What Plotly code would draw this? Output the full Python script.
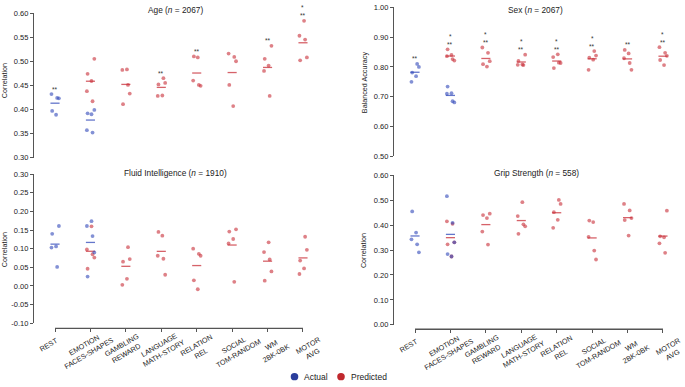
import numpy as np
import plotly.graph_objects as go

W, H = 685, 387

# ---------------- data ----------------
CATEGORIES = ["REST", "EMOTION<br>FACES-SHAPES", "GAMBLING<br>REWARD", "LANGUAGE<br>MATH-STORY",
              "RELATION<br>REL", "SOCIAL<br>TOM-RANDOM", "WM<br>2BK-0BK", "MOTOR<br>AVG"]

AGE_ACTUAL = [[0.432, 0.424, 0.423, 0.397, 0.389],
              [0.399, 0.392, 0.390, 0.357, 0.352],
              None, None, None, None, None, None]
AGE_PRED = [None,
            [0.505, 0.474, 0.459, 0.438, 0.417],
            [0.483, 0.482, 0.451, 0.433, 0.411],
            [0.465, 0.455, 0.452, 0.429, 0.428],
            [0.510, 0.508, 0.460, 0.451, 0.449],
            [0.516, 0.509, 0.500, 0.451, 0.407],
            [0.532, 0.505, 0.491, 0.480, 0.428],
            [0.584, 0.553, 0.545, 0.508, 0.502]]
AGE_STAR2 = [1, 0, 0, 1, 1, 0, 1, 1]
AGE_STAR1 = [0, 0, 0, 0, 0, 0, 0, 1]

SEX_ACTUAL = [[0.810, 0.800, 0.781, 0.769, 0.750],
              [0.734, 0.712, 0.710, 0.685, 0.681],
              None, None, None, None, None, None]
SEX_PRED = [None,
            [0.859, 0.840, 0.836, 0.826, 0.821],
            [0.865, 0.847, 0.819, 0.809, 0.801],
            [0.841, 0.820, 0.808, 0.807, 0.806],
            [0.842, 0.833, 0.814, 0.813, 0.796],
            [0.853, 0.838, 0.831, 0.824, 0.790],
            [0.857, 0.845, 0.829, 0.813, 0.790],
            [0.866, 0.847, 0.837, 0.823, 0.806]]
SEX_STAR2 = [1, 1, 1, 1, 1, 1, 1, 1]
SEX_STAR1 = [0, 1, 1, 1, 1, 1, 0, 1]

FLUID_ACTUAL = [[0.161, 0.140, 0.106, 0.103, 0.051],
                [0.174, 0.161, 0.134, 0.090, 0.025],
                None, None, None, None, None, None]
FLUID_PRED = [None,
              [0.160, 0.098, 0.085, 0.076, 0.046],
              [0.104, 0.072, 0.065, 0.019, 0.003],
              [0.145, 0.135, 0.081, 0.073, 0.030],
              [0.100, 0.086, 0.081, 0.015, -0.009],
              [0.152, 0.146, 0.126, 0.114, 0.011],
              [0.117, 0.091, 0.071, 0.039, 0.014],
              [0.132, 0.097, 0.068, 0.047, 0.032]]
FLUID_STAR2 = [0] * 8
FLUID_STAR1 = [0] * 8

GRIP_ACTUAL = [[0.455, 0.370, 0.343, 0.323, 0.291],
               [0.516, 0.409, 0.331, 0.284, 0.274],
               None, None, None, None, None, None]
GRIP_PRED = [None,
             [0.415, 0.405, 0.331, 0.323, 0.274],
             [0.446, 0.440, 0.428, 0.374, 0.322],
             [0.492, 0.436, 0.403, 0.395, 0.365],
             [0.501, 0.485, 0.452, 0.421, 0.389],
             [0.418, 0.412, 0.353, 0.298, 0.262],
             [0.485, 0.459, 0.428, 0.420, 0.358],
             [0.458, 0.355, 0.351, 0.327, 0.289]]
GRIP_STAR2 = [0] * 8
GRIP_STAR1 = [0] * 8

AGE_TICKS = [0.30, 0.35, 0.40, 0.45, 0.50, 0.55, 0.60]
SEX_TICKS = [0.50, 0.60, 0.70, 0.80, 0.90, 1.00]
FLUID_TICKS = [-0.10, -0.05, 0.00, 0.05, 0.10, 0.15, 0.20, 0.25, 0.30]
GRIP_TICKS = [0.00, 0.10, 0.20, 0.30, 0.40, 0.50, 0.60]

TITLES = ["Age (<i>n</i> = 2067)", "Sex (<i>n</i> = 2067)",
          "Fluid Intelligence (<i>n</i> = 1910)", "Grip Strength (<i>n</i> = 558)"]
YTITLES = ["Correlation", "Balanced Accuracy", "Correlation", "Correlation"]
LEGEND_LABELS = ["Actual", "Predicted"]

# ---------------- style ----------------
FONT = "Liberation Sans, Arial, Helvetica, sans-serif"
BLUE_PT = "rgba(48,72,185,0.60)"
RED_PT = "rgba(200,45,55,0.60)"
BLUE_LN = "rgba(48,72,185,0.75)"
RED_LN = "rgba(200,45,55,0.75)"
LEGEND_COLS = ["#2b3e9c", "#c0282e"]
AXCOL = "#555555"
TXT = "#222222"
JITTER = [-0.10, 0.06, 0.11, -0.08, 0.03]
HALF = 17.7  # half category spacing in px

# panel geometry in pixels (top-origin)
PANELS = [
    dict(x0=55, x1=303, ytop=9.3, ybot=157.3, yaxis_x=33, xaxis_y=None,
         title=(175, 6.0), ytitle=(4, 79)),
    dict(x0=415, x1=663, ytop=3.3, ybot=156.0, yaxis_x=393, xaxis_y=None,
         title=(535, 6.0), ytitle=(364, 80)),
    dict(x0=55, x1=303, ytop=174.3, ybot=326.7, yaxis_x=33, xaxis_y=332,
         title=(175, 173.0), ytitle=(4, 252)),
    dict(x0=415, x1=663, ytop=175.3, ybot=328.5, yaxis_x=393, xaxis_y=333,
         title=(536, 173.5), ytitle=(363, 253)),
]

DATASETS = [
    (AGE_ACTUAL, AGE_PRED, AGE_STAR2, AGE_STAR1, AGE_TICKS),
    (SEX_ACTUAL, SEX_PRED, SEX_STAR2, SEX_STAR1, SEX_TICKS),
    (FLUID_ACTUAL, FLUID_PRED, FLUID_STAR2, FLUID_STAR1, FLUID_TICKS),
    (GRIP_ACTUAL, GRIP_PRED, GRIP_STAR2, GRIP_STAR1, GRIP_TICKS),
]


def px(x):
    return x / W


def py(y):
    return (H - y) / H


fig = go.Figure()
annotations = []
shapes = []
layout = {}
ncat = len(CATEGORIES)

for k, (panel, (actual, pred, star2, star1, ticks)) in enumerate(zip(PANELS, DATASETS)):
    sfx = "" if k == 0 else str(k + 1)
    xa, ya = "x" + sfx, "y" + sfx
    for series, pcol, lcol in ((pred, RED_PT, RED_LN), (actual, BLUE_PT, BLUE_LN)):
        xs, ys, mx, my = [], [], [], []
        for i, vals in enumerate(series):
            if vals is None:
                continue
            for j, v in enumerate(vals):
                xs.append(i + JITTER[(j + 2 * i + k) % len(JITTER)])
                ys.append(v)
            mx.append(i)
            my.append(float(np.mean(vals)))
        fig.add_trace(go.Scatter(x=xs, y=ys, mode="markers", xaxis=xa, yaxis=ya,
                                 marker=dict(size=3.8, color=pcol, line=dict(width=0)),
                                 cliponaxis=False, showlegend=False, hoverinfo="y"))
        fig.add_trace(go.Scatter(x=mx, y=my, mode="markers", xaxis=xa, yaxis=ya,
                                 marker=dict(symbol="line-ew", size=6.5,
                                             line=dict(width=1.3, color=lcol)),
                                 cliponaxis=False, showlegend=False, hoverinfo="y"))
    # significance stars
    for i in range(ncat):
        vals = [v for s in (actual, pred) if s[i] is not None for v in s[i]]
        top = max(vals)
        if star2[i]:
            annotations.append(dict(x=i, y=top, xref=xa, yref=ya, text="**", showarrow=False,
                                    yanchor="middle", yshift=5, borderpad=0,
                                    font=dict(size=6.5, color="#333", family=FONT)))
        if star1[i]:
            annotations.append(dict(x=i, y=top, xref=xa, yref=ya, text="*", showarrow=False,
                                    yanchor="middle", yshift=13, borderpad=0,
                                    font=dict(size=6.5, color="#333", family=FONT)))
    ydom = [py(panel["ybot"]), py(panel["ytop"])]
    xdom = [px(panel["x0"] - HALF), px(panel["x1"] + HALF)]
    xaxis = dict(domain=xdom, range=[-0.5, ncat - 0.5], showgrid=False, zeroline=False,
                 fixedrange=True)
    if panel["xaxis_y"] is None:
        xaxis.update(visible=False, anchor=ya)
    else:
        xaxis.update(anchor="free", position=py(panel["xaxis_y"]), showline=False,
                     ticks="outside", ticklen=3, tickwidth=1, tickcolor=AXCOL,
                     tickmode="array", tickvals=list(range(ncat)), showticklabels=False)
        shapes.append(dict(type="line", xref=xa, yref="paper", x0=0, x1=ncat - 1,
                           y0=py(panel["xaxis_y"]), y1=py(panel["xaxis_y"]),
                           line=dict(color=AXCOL, width=1.3)))
        for i, lab in enumerate(CATEGORIES):
            nlines = lab.count("<br>") + 1
            annotations.append(dict(x=i, y=py(panel["xaxis_y"] + 17 + 4.5 * (nlines - 1)),
                                    xref=xa, yref="paper",
                                    text=lab, showarrow=False, textangle=-30, align="center",
                                    xanchor="center", yanchor="middle", xshift=-6 + 2 * i,
                                    borderpad=0,
                                    font=dict(size=7.2, color=TXT, family=FONT)))
    yaxis = dict(domain=ydom, range=[ticks[0], ticks[-1]], anchor="free",
                 position=px(panel["yaxis_x"]), showline=True, linecolor=AXCOL, linewidth=1.3,
                 ticks="outside", ticklen=3, tickwidth=1, tickcolor=AXCOL, showgrid=False,
                 zeroline=False, tickmode="array", tickvals=ticks,
                 ticktext=["%.2f" % t for t in ticks],
                 tickfont=dict(size=7.5, color=TXT, family=FONT), fixedrange=True)
    layout["xaxis" + sfx] = xaxis
    layout["yaxis" + sfx] = yaxis
    tx, ty = panel["title"]
    annotations.append(dict(x=px(tx), y=py(ty), xref="paper", yref="paper", text=TITLES[k],
                            showarrow=False, xanchor="center", yanchor="middle", borderpad=0,
                            font=dict(size=8.3, color=TXT, family=FONT)))
    ax_, ay_ = panel["ytitle"]
    annotations.append(dict(x=px(ax_), y=py(ay_), xref="paper", yref="paper", text=YTITLES[k],
                            showarrow=False, textangle=-90, xanchor="center", yanchor="middle",
                            borderpad=0, font=dict(size=7.2, color=TXT, family=FONT)))

# legend (drawn manually to match the compact original layout)
LEG_POS = [(294.5, 302.5), (341, 350)]
LEG_Y = 381.5
r = 3.8
for label, col, (cx, tx) in zip(LEGEND_LABELS, LEGEND_COLS, LEG_POS):
    shapes.append(dict(type="circle", xref="paper", yref="paper",
                       x0=px(cx - r), x1=px(cx + r), y0=py(LEG_Y + r), y1=py(LEG_Y - r),
                       fillcolor=col, line=dict(width=0)))
    annotations.append(dict(x=px(tx), y=py(LEG_Y), xref="paper", yref="paper", text=label,
                            showarrow=False, xanchor="left", yanchor="middle", borderpad=0,
                            font=dict(size=8.5, color=TXT, family=FONT)))

fig.update_layout(width=W, height=H, autosize=False, margin=dict(l=0, r=0, t=0, b=0),
                  paper_bgcolor="white", plot_bgcolor="white", showlegend=False,
                  annotations=annotations, shapes=shapes, font=dict(family=FONT), **layout)

fig.write_html("out.html", config={"displayModeBar": False},
               post_script="document.body.style.margin='0';document.body.style.padding='0';")
